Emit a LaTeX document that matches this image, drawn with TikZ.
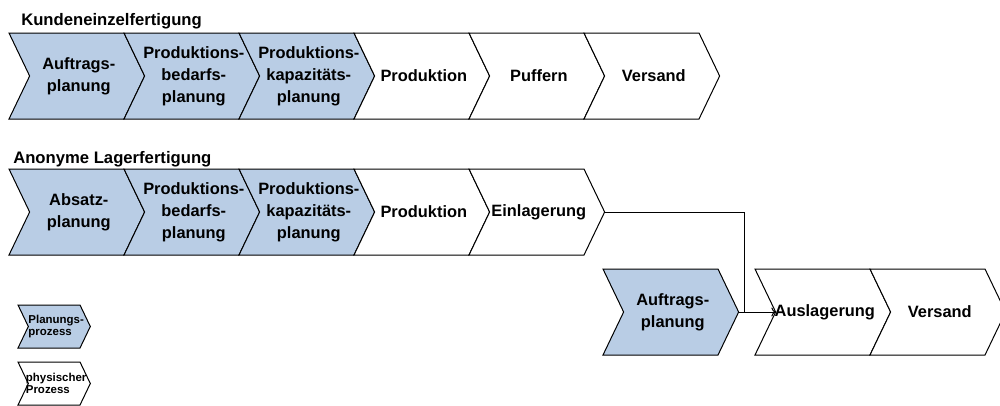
\documentclass[tikz,border=0pt]{standalone}
\usepackage{fontspec}
\setmainfont{Liberation Sans}
\usepackage{tikz}
\usetikzlibrary{arrows.meta}
\definecolor{planblau}{RGB}{185,205,229}

\newcommand{\prozess}[7]{%
  \draw[#6] (#2,#3) -- ++(#4,0) -- ++({0.24*#5},{#5/2}) -- ++({-0.24*#5},{#5/2})
    -- ++(-#4,0) -- ++({0.24*#5},{-#5/2}) -- cycle;
  \node[prozesstext] (#1) at ({#2+(#4+0.24*#5)/2+2},{#3+#5/2}) {#7};
  \coordinate (#1-spitze) at ({#2+#4+0.24*#5},{#3+#5/2});
  \coordinate (#1-kerbe) at ({#2+0.24*#5},{#3+#5/2});
}

\begin{document}
\begin{tikzpicture}[x=0.75pt, y=-0.75pt,
    rand/.style={draw=black, line width=0.75pt, line join=miter},
    planung/.style={rand, fill=planblau},
    physisch/.style={rand, fill=white},
    prozesstext/.style={align=center, inner sep=0pt, font=\fontsize{12.3}{16.5}\selectfont\bfseries},
    titel/.style={anchor=base west, inner sep=0pt, font=\fontsize{12.5}{14}\selectfont\bfseries},
    verbindung/.style={line width=0.75pt}]
    \useasboundingbox (0,0) rectangle (1000,405);

    \node[titel] (kunde) at (21,25) {Kundeneinzelfertigung};
    \prozess{ka}{9}{33}{115}{86}{planung}{Auftrags-\\planung}
    \prozess{kb}{124}{33}{115}{86}{planung}{Produktions-\\bedarfs-\\planung}
    \prozess{kc}{239}{33}{115}{86}{planung}{Produktions-\\kapazitäts-\\planung}
    \prozess{kd}{354}{33}{115}{86}{physisch}{Produktion}
    \prozess{ke}{469}{33}{115}{86}{physisch}{Puffern}
    \prozess{kf}{584}{33}{115}{86}{physisch}{Versand}

    \node[titel] (anonym) at (13,163) {Anonyme Lagerfertigung};
    \prozess{la}{9}{169}{115}{86}{planung}{Absatz-\\planung}
    \prozess{lb}{124}{169}{115}{86}{planung}{Produktions-\\bedarfs-\\planung}
    \prozess{lc}{239}{169}{115}{86}{planung}{Produktions-\\kapazitäts-\\planung}
    \prozess{ld}{354}{169}{115}{86}{physisch}{Produktion}
    \prozess{le}{469}{169}{115}{86}{physisch}{Einlagerung}

    \prozess{af}{603}{269}{115}{86}{planung}{Auftrags-\\planung}
    \prozess{al}{755}{269}{115}{86}{physisch}{Auslagerung}
    \prozess{av}{870}{269}{115}{86}{physisch}{Versand}

    \coordinate (knick) at (744,312);
    \draw[verbindung] (le-spitze) -| (knick);
    \draw[verbindung, -{To}] (af-spitze) -- (al-kerbe);

    \begin{scope}[prozesstext/.append style={align=left, font=\fontsize{8.6}{9}\selectfont\bfseries}]
        \prozess{lgp}{18}{305}{62}{43}{planung}{Planungs-\\prozess}
        \prozess{lgf}{18}{362}{62}{43}{physisch}{physischer\\Prozess}
    \end{scope}
\end{tikzpicture}
\end{document}
